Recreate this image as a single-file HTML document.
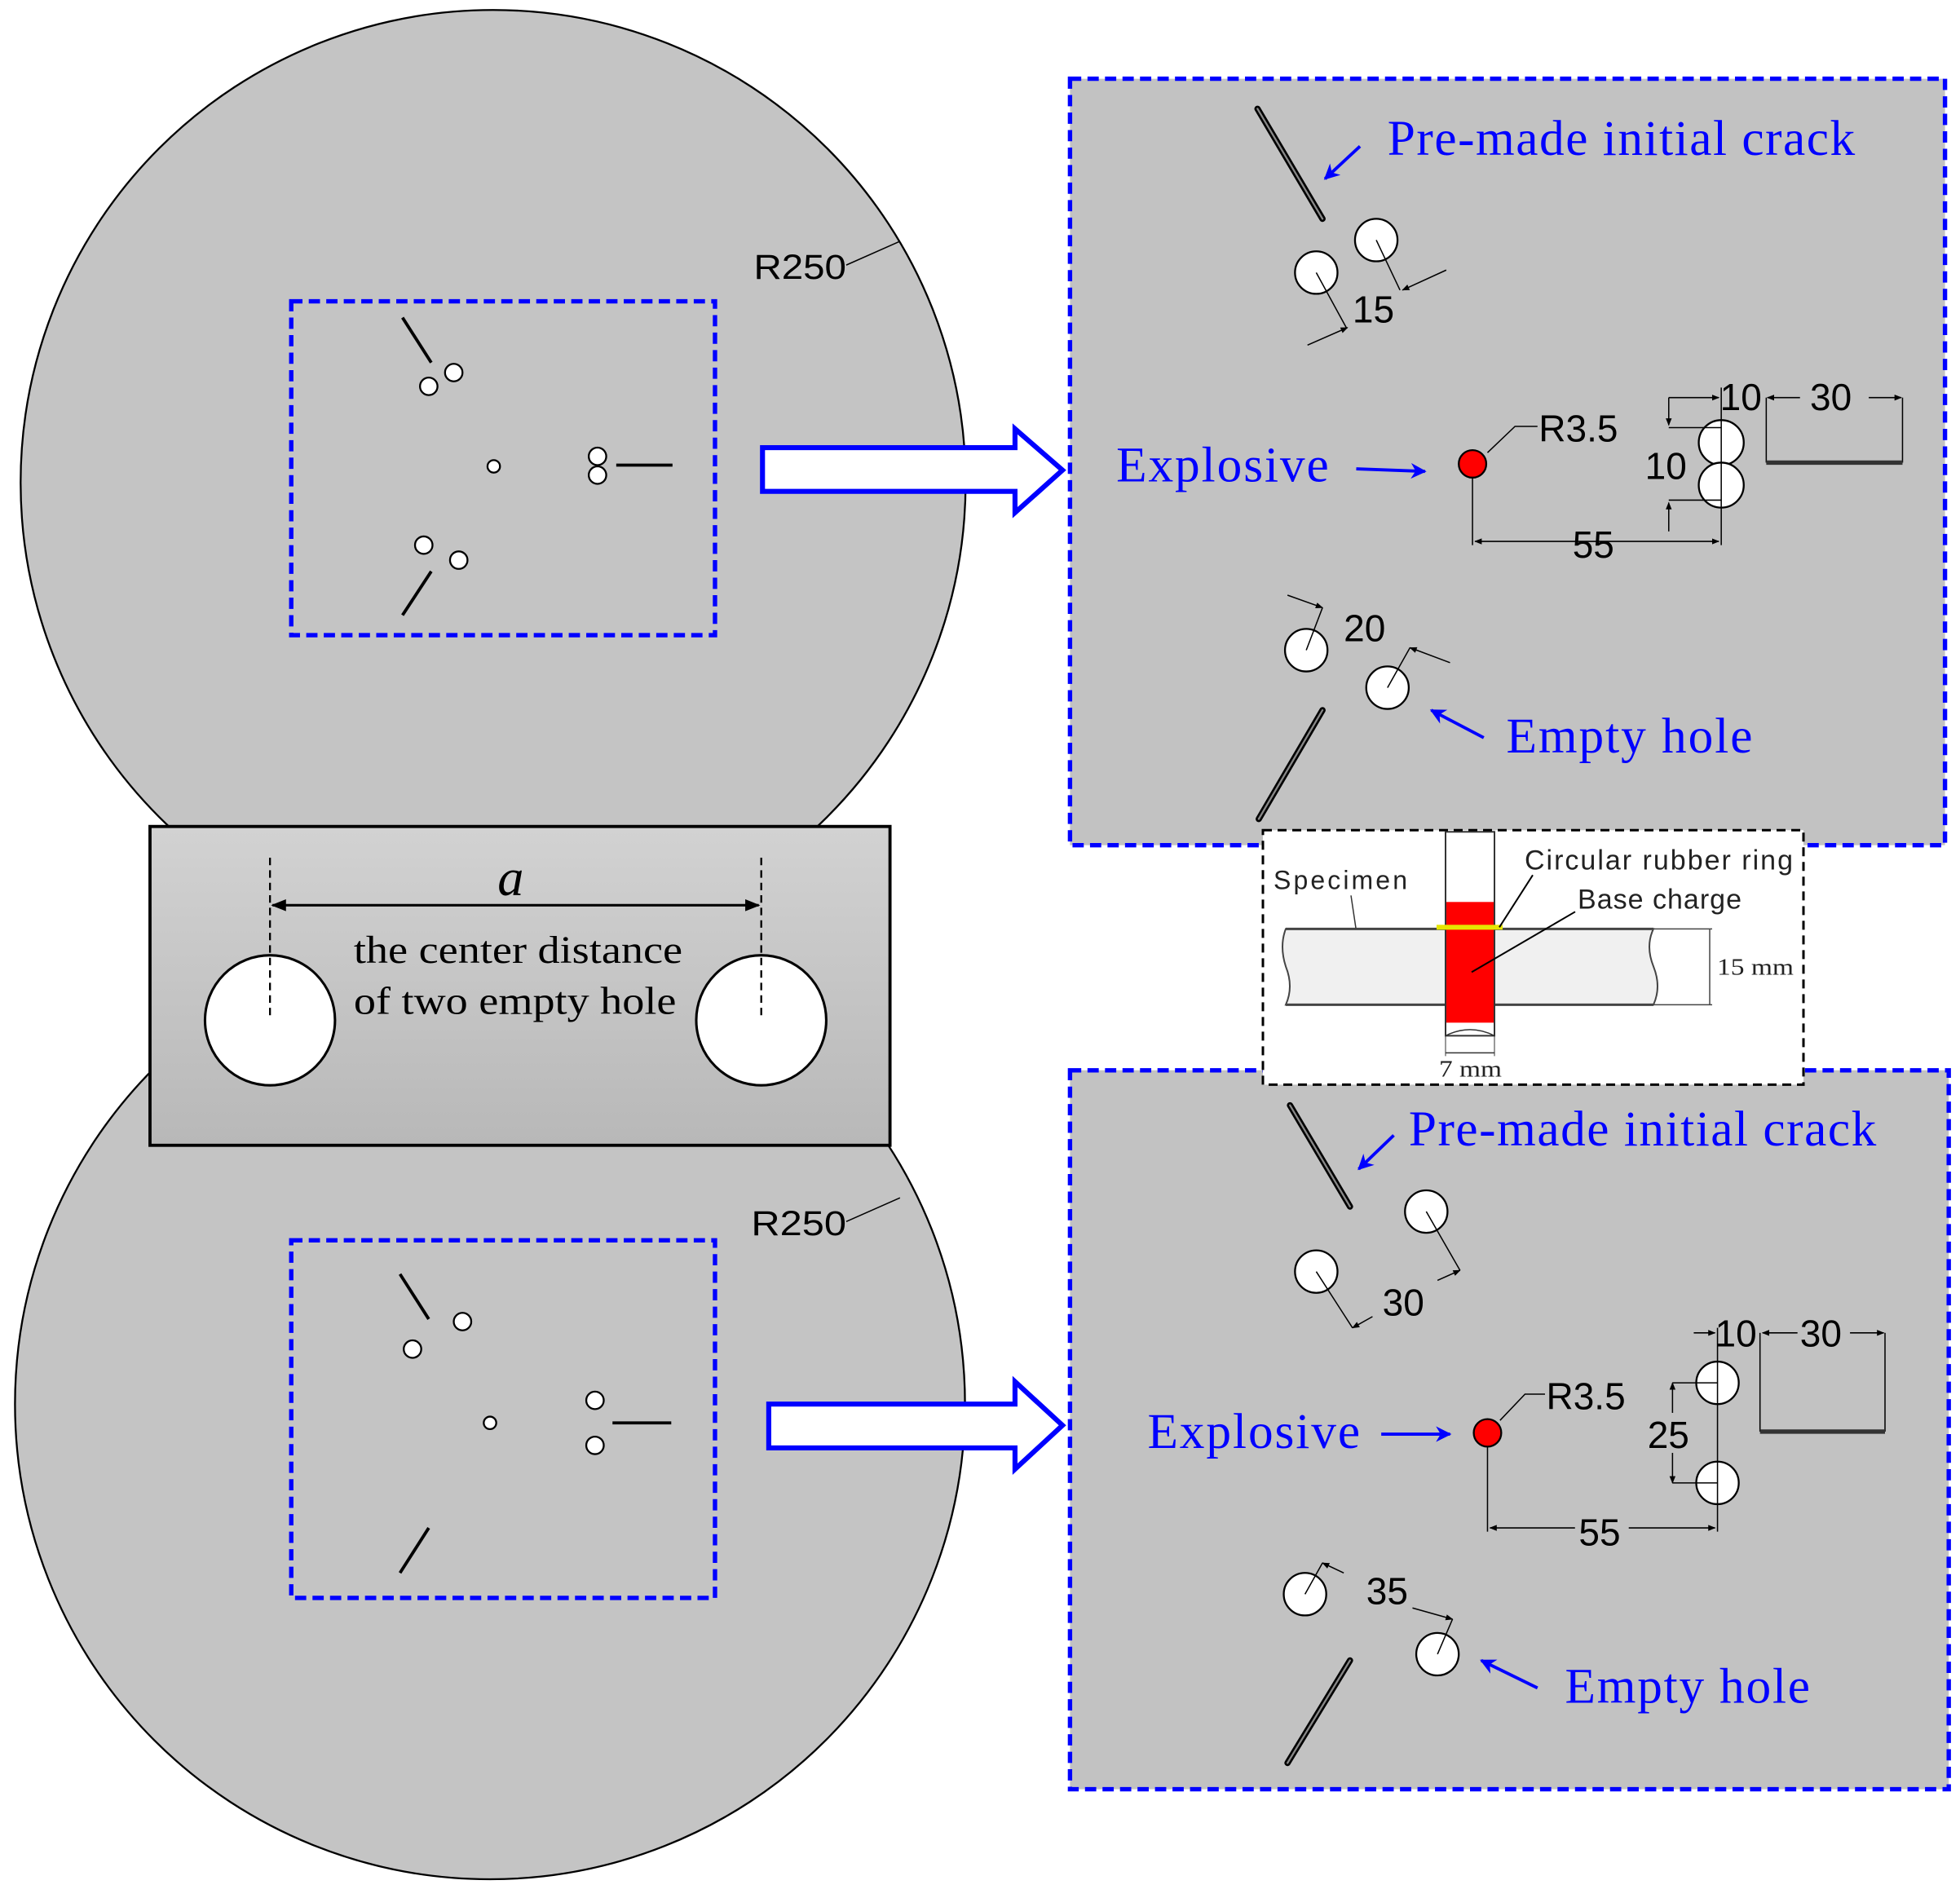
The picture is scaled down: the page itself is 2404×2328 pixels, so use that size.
<!DOCTYPE html>
<html><head><meta charset="utf-8"><style>html,body{margin:0;padding:0;background:#fff}svg{display:block}</style></head>
<body>
<svg width="2404" height="2328" viewBox="0 0 1568 1518" preserveAspectRatio="none" xmlns="http://www.w3.org/2000/svg">
<defs>
<linearGradient id="g" x1="0" y1="0" x2="0" y2="1"><stop offset="0" stop-color="#d2d2d2"/><stop offset="1" stop-color="#b8b8b8"/></linearGradient>
<marker id="ab" viewBox="0 0 10 10" refX="9" refY="5" markerWidth="6" markerHeight="6" orient="auto-start-reverse"><path d="M0,1L10,5L0,9z" fill="#000"/></marker>
<marker id="bl" viewBox="0 0 10 10" refX="9" refY="5" markerWidth="5" markerHeight="5" orient="auto"><path d="M0,0L10,5L0,10L3,5z" fill="#00f"/></marker>
</defs>
<rect width="1568" height="1518" fill="#fff"/>
<circle cx="394.5" cy="386" r="378" fill="#c4c4c4" stroke="#000" stroke-width="1.5"/>
<circle cx="392" cy="1123" r="380" fill="#c4c4c4" stroke="#000" stroke-width="1.5"/>
<text x="603" y="223" font-family="Liberation Sans" font-size="28" textLength="74" lengthAdjust="spacingAndGlyphs">R250</text>
<line x1="677" y1="212" x2="720" y2="193" stroke="#000" stroke-width="1"/>
<text x="601" y="988" font-family="Liberation Sans" font-size="28" textLength="76" lengthAdjust="spacingAndGlyphs">R250</text>
<line x1="677" y1="977" x2="720" y2="958" stroke="#000" stroke-width="1"/>
<rect x="233" y="241" width="339" height="267" fill="none" stroke="#00f" stroke-width="3.5" stroke-dasharray="9,5"/>
<rect x="233" y="992" width="339" height="286" fill="none" stroke="#00f" stroke-width="3.5" stroke-dasharray="9,5"/>
<g stroke="#000" stroke-width="2.5" fill="#fff">
<line x1="322" y1="254" x2="345" y2="290"/><line x1="322" y1="492" x2="345" y2="457"/>
<line x1="493" y1="372" x2="538" y2="372"/>
<circle cx="343" cy="309" r="7" stroke-width="1.5"/><circle cx="363" cy="298" r="7" stroke-width="1.5"/>
<circle cx="395" cy="373" r="5" stroke-width="1.5"/>
<circle cx="478" cy="365" r="7" stroke-width="1.5"/><circle cx="478" cy="380" r="7" stroke-width="1.5"/>
<circle cx="339" cy="436" r="7" stroke-width="1.5"/><circle cx="367" cy="448" r="7" stroke-width="1.5"/>
<line x1="320" y1="1019" x2="343" y2="1055"/><line x1="320" y1="1258" x2="343" y2="1222"/>
<line x1="490" y1="1138" x2="537" y2="1138"/>
<circle cx="330" cy="1079" r="7" stroke-width="1.5"/><circle cx="370" cy="1057" r="7" stroke-width="1.5"/>
<circle cx="392" cy="1138" r="5" stroke-width="1.5"/>
<circle cx="476" cy="1120" r="7" stroke-width="1.5"/><circle cx="476" cy="1156" r="7" stroke-width="1.5"/>
</g>
<path d="M610,358H812V343L850,376L812,410V393H610Z" fill="#fff" stroke="#00f" stroke-width="4"/>
<path d="M615,1123H812V1105L850,1140L812,1175V1158H615Z" fill="#fff" stroke="#00f" stroke-width="4"/>
<rect x="120" y="661" width="592" height="255" fill="url(#g)" stroke="#000" stroke-width="2.5"/>
<circle cx="216" cy="816" r="52" fill="#fff" stroke="#000" stroke-width="2"/>
<circle cx="609" cy="816" r="52" fill="#fff" stroke="#000" stroke-width="2"/>
<line x1="216" y1="686" x2="216" y2="816" stroke="#000" stroke-width="1.5" stroke-dasharray="6,4"/>
<line x1="609" y1="686" x2="609" y2="816" stroke="#000" stroke-width="1.5" stroke-dasharray="6,4"/>
<line x1="218" y1="724" x2="607" y2="724" stroke="#000" stroke-width="2" marker-start="url(#ab)" marker-end="url(#ab)"/>
<text x="398" y="716" font-family="Liberation Serif" font-style="italic" font-size="42">a</text>
<text x="283" y="770" font-family="Liberation Serif" font-size="31" textLength="263" lengthAdjust="spacingAndGlyphs">the center distance</text>
<text x="283" y="811" font-family="Liberation Serif" font-size="31" textLength="258" lengthAdjust="spacingAndGlyphs">of two empty hole</text>
<rect x="856" y="63" width="700" height="613" fill="#c2c2c2" stroke="#00f" stroke-width="3.5" stroke-dasharray="9,5"/>
<rect x="856" y="856" width="703" height="575" fill="#c2c2c2" stroke="#00f" stroke-width="3.5" stroke-dasharray="9,5"/>
<g font-family="Liberation Serif" font-size="40" fill="#00f" lengthAdjust="spacingAndGlyphs">
<text x="1110" y="124" textLength="374">Pre-made initial crack</text>
<text x="893" y="385" textLength="170">Explosive</text>
<text x="1205" y="602" textLength="197">Empty hole</text>
<text x="1127" y="916" textLength="374">Pre-made initial crack</text>
<text x="918" y="1158" textLength="170">Explosive</text>
<text x="1252" y="1362" textLength="196">Empty hole</text>
</g>
<g stroke="#00f" stroke-width="2.5" marker-end="url(#bl)">
<line x1="1088" y1="117" x2="1060" y2="143"/>
<line x1="1085" y1="375" x2="1140" y2="377"/>
<line x1="1187" y1="590" x2="1145" y2="568"/>
<line x1="1115" y1="908" x2="1087" y2="935"/>
<line x1="1105" y1="1147" x2="1160" y2="1147"/>
<line x1="1230" y1="1350" x2="1185" y2="1328"/>
</g>
<g stroke-linecap="round">
<g stroke="#000" stroke-width="5"><line x1="1006" y1="87" x2="1058" y2="175"/><line x1="1007" y1="655" x2="1058" y2="568"/><line x1="1032" y1="884" x2="1080" y2="965"/><line x1="1030" y1="1410" x2="1080" y2="1328"/></g>
<g stroke="#888" stroke-width="1.5"><line x1="1006" y1="87" x2="1058" y2="175"/><line x1="1007" y1="655" x2="1058" y2="568"/><line x1="1032" y1="884" x2="1080" y2="965"/><line x1="1030" y1="1410" x2="1080" y2="1328"/></g>
</g>
<g fill="#fff" stroke="#000" stroke-width="1.5">
<circle cx="1053" cy="218" r="17"/><circle cx="1101" cy="192" r="17"/>
<circle cx="1377" cy="354" r="18"/><circle cx="1377" cy="388" r="18"/>
<circle cx="1045" cy="520" r="17"/><circle cx="1110" cy="550" r="17"/>
<circle cx="1053" cy="1017" r="17"/><circle cx="1141" cy="969" r="17"/>
<circle cx="1374" cy="1106" r="17"/><circle cx="1374" cy="1186" r="17"/>
<circle cx="1044" cy="1275" r="17"/><circle cx="1150" cy="1323" r="17"/>
</g>
<circle cx="1178" cy="371" r="11" fill="#f00" stroke="#000" stroke-width="1.5"/>
<circle cx="1190" cy="1146" r="11" fill="#f00" stroke="#000" stroke-width="1.5"/>
<g stroke="#000" stroke-width="1" fill="none">
<line x1="1053" y1="218" x2="1077" y2="262"/><line x1="1101" y1="192" x2="1120" y2="232"/>
<line x1="1046" y1="276" x2="1078" y2="262" marker-end="url(#ab)"/><line x1="1157" y1="216" x2="1122" y2="232" marker-end="url(#ab)"/>
<polyline points="1190,362 1212,341 1230,341"/>
<line x1="1178" y1="382" x2="1178" y2="436"/><line x1="1377" y1="310" x2="1377" y2="436"/>
<line x1="1180" y1="433" x2="1375" y2="433" marker-start="url(#ab)" marker-end="url(#ab)"/>
<line x1="1335" y1="318" x2="1335" y2="340" marker-end="url(#ab)"/><line x1="1335" y1="425" x2="1335" y2="402" marker-end="url(#ab)"/>
<line x1="1335" y1="342" x2="1377" y2="342"/><line x1="1335" y1="400" x2="1377" y2="400"/>
<line x1="1335" y1="318" x2="1375" y2="318" marker-end="url(#ab)"/>
<line x1="1414" y1="318" x2="1440" y2="318" marker-start="url(#ab)"/><line x1="1495" y1="318" x2="1521" y2="318" marker-end="url(#ab)"/>
<line x1="1413" y1="318" x2="1413" y2="370"/><line x1="1522" y1="318" x2="1522" y2="370"/>
<line x1="1045" y1="520" x2="1058" y2="486"/><line x1="1030" y1="476" x2="1058" y2="486" marker-end="url(#ab)"/>
<line x1="1110" y1="550" x2="1128" y2="518"/><line x1="1160" y1="530" x2="1128" y2="518" marker-end="url(#ab)"/>
<line x1="1053" y1="1017" x2="1082" y2="1062"/><line x1="1141" y1="969" x2="1168" y2="1016"/>
<line x1="1098" y1="1053" x2="1082" y2="1062" marker-end="url(#ab)"/><line x1="1150" y1="1024" x2="1168" y2="1016" marker-end="url(#ab)"/>
<polyline points="1200,1136 1220,1115 1236,1115"/>
<line x1="1190" y1="1157" x2="1190" y2="1225"/><line x1="1374" y1="1062" x2="1374" y2="1225"/>
<line x1="1192" y1="1222" x2="1260" y2="1222" marker-start="url(#ab)"/><line x1="1303" y1="1222" x2="1372" y2="1222" marker-end="url(#ab)"/>
<line x1="1338" y1="1130" x2="1338" y2="1106" marker-end="url(#ab)"/><line x1="1338" y1="1162" x2="1338" y2="1186" marker-end="url(#ab)"/>
<line x1="1338" y1="1106" x2="1374" y2="1106"/><line x1="1338" y1="1186" x2="1374" y2="1186"/>
<line x1="1355" y1="1066" x2="1372" y2="1066" marker-end="url(#ab)"/>
<line x1="1410" y1="1066" x2="1438" y2="1066" marker-start="url(#ab)"/><line x1="1480" y1="1066" x2="1507" y2="1066" marker-end="url(#ab)"/>
<line x1="1408" y1="1066" x2="1408" y2="1145"/><line x1="1508" y1="1066" x2="1508" y2="1145"/>
<line x1="1044" y1="1275" x2="1058" y2="1250"/><line x1="1075" y1="1258" x2="1058" y2="1250" marker-end="url(#ab)"/>
<line x1="1150" y1="1323" x2="1162" y2="1295"/><line x1="1130" y1="1286" x2="1162" y2="1295" marker-end="url(#ab)"/>
</g>
<line x1="1413" y1="370" x2="1522" y2="370" stroke="#333" stroke-width="3.5"/>
<line x1="1408" y1="1145" x2="1508" y2="1145" stroke="#333" stroke-width="3.5"/>
<g font-family="Liberation Sans" font-size="30" fill="#000">
<text x="1082" y="258">15</text>
<text x="1231" y="353">R3.5</text>
<text x="1376" y="328">10</text><text x="1448" y="328">30</text>
<text x="1316" y="383">10</text>
<text x="1258" y="446">55</text>
<text x="1075" y="513">20</text>
<text x="1106" y="1052">30</text>
<text x="1237" y="1127">R3.5</text>
<text x="1372" y="1077">10</text><text x="1440" y="1077">30</text>
<text x="1318" y="1158">25</text>
<text x="1263" y="1236">55</text>
<text x="1093" y="1283">35</text>
</g>
<g transform="scale(0.65225)">
<rect x="1549" y="1018" width="663" height="312" fill="#fff" stroke="#000" stroke-width="3" stroke-dasharray="11,7"/>
<path d="M1577,1139H2028Q2018,1160 2028,1185Q2038,1210 2028,1232H1577Q1587,1210 1577,1185Q1569,1160 1577,1139Z" fill="#f0f0f0" stroke="#444" stroke-width="2"/>
<line x1="1577" y1="1139" x2="2028" y2="1139" stroke="#444" stroke-width="3"/>
<line x1="1577" y1="1232" x2="2028" y2="1232" stroke="#444" stroke-width="3"/>
<line x1="2028" y1="1139" x2="2100" y2="1139" stroke="#444" stroke-width="1.5"/>
<line x1="2028" y1="1232" x2="2100" y2="1232" stroke="#444" stroke-width="1.5"/>
<line x1="2097" y1="1139" x2="2097" y2="1232" stroke="#444" stroke-width="1.5"/>
<rect x="1773" y="1020" width="60" height="250" fill="#fff" stroke="#333" stroke-width="2"/>
<rect x="1774" y="1106" width="58" height="148" fill="#f00"/>
<path d="M1773,1270Q1803,1255 1833,1270" fill="none" stroke="#333" stroke-width="1.5"/>
<line x1="1773" y1="1270" x2="1773" y2="1295" stroke="#333"/><line x1="1833" y1="1270" x2="1833" y2="1295" stroke="#333"/>
<line x1="1773" y1="1291" x2="1833" y2="1291" stroke="#333" stroke-width="1.5"/>
<rect x="1762" y="1134" width="81" height="6" fill="#e6e600"/>
<line x1="1657" y1="1098" x2="1663" y2="1138" stroke="#333" stroke-width="1.5"/>
<line x1="1880" y1="1073" x2="1839" y2="1137" stroke="#000" stroke-width="2"/>
<line x1="1932" y1="1118" x2="1805" y2="1192" stroke="#000" stroke-width="2"/>
<g font-family="Liberation Sans" fill="#222" lengthAdjust="spacingAndGlyphs">
<text x="1562" y="1090" font-size="32" textLength="164">Specimen</text>
<text x="1870" y="1066" font-size="34" textLength="329">Circular rubber ring</text>
<text x="1935" y="1114" font-size="34" textLength="201">Base charge</text>
</g>
<text x="2106" y="1195" font-family="Liberation Serif" font-size="29" fill="#222" textLength="94" lengthAdjust="spacingAndGlyphs">15 mm</text>
<text x="1765" y="1320" font-family="Liberation Serif" font-size="29" fill="#222" textLength="77" lengthAdjust="spacingAndGlyphs">7 mm</text>
</g>
</svg>
</body></html>
